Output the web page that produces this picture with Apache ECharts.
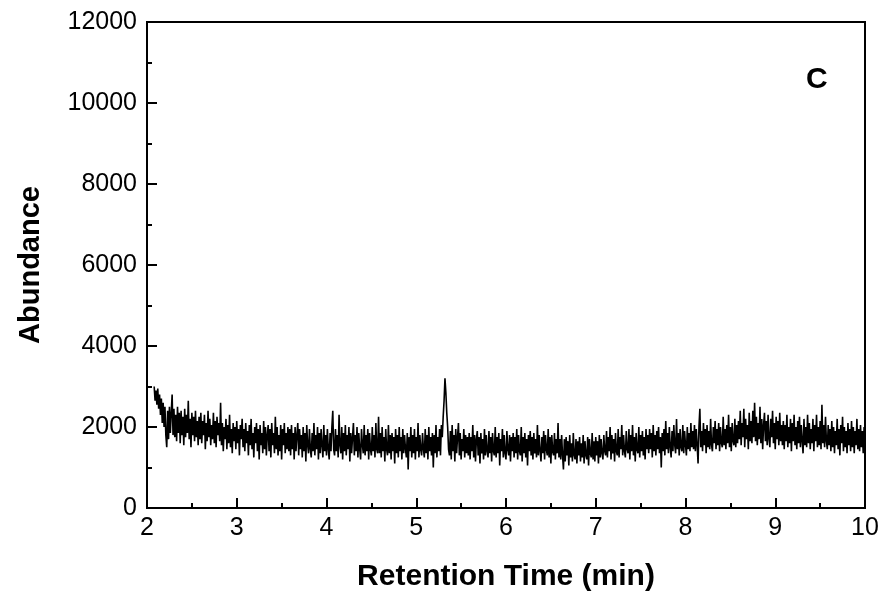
<!DOCTYPE html>
<html>
<head>
<meta charset="utf-8">
<script src="https://cdn.jsdelivr.net/npm/echarts@6/dist/echarts.min.js"></script>
<style>html,body{margin:0;padding:0;background:#fff}#c{width:885px;height:594px}</style>
</head>
<body>
<div id="c"></div>
<script>
// Retention time axis: first sample time and sampling step (min)
var startTime = 2.08;
var stepTime = 0.01;
// Abundance values (rows of 0.5 min)
var abundance = [
 3000,2650,2900,2550,2950,2450,2800,2300,2700,2100,2600,2000,2500,1800,1500,2400,1700,2500,1850,2350,2800,1800,2450,1750,2300,
 1650,2500,1850,2350,1600,2400,1800,2250,1550,2450,1750,2300,1850,2650,1700,2200,1500,2350,1800,2250,1650,2400,1750,2150,1550,
 2250,1700,2350,1600,2150,1800,2300,1450,2100,1650,2400,1750,2200,1550,2050,1700,2350,1600,2150,1500,2250,1800,2100,1650,2600,
 1550,2100,1400,2000,1700,2200,1450,2050,1600,2300,1500,1950,1350,2100,1650,2000,1450,2150,1600,1950,1300,2050,1700,2200,1500,
 1950,1400,2100,1600,1900,1300,2050,1550,2200,1450,1850,1250,2000,1600,2100,1400,1950,1200,2050,1550,1850,1350,2150,1450,2000,
 1300,1800,2050,1400,1950,1250,2100,1550,1850,1350,2250,1450,2000,1300,1800,1400,2050,1200,1950,1550,2100,1350,1850,1450,2000,
 1400,1950,1300,2050,1450,1850,1200,2000,1400,1800,2100,1300,1950,1450,1800,1250,2000,1400,1850,1150,2050,1550,1350,1950,1450,
 1250,1850,1400,2100,1300,1800,1450,2000,1200,1850,1350,1950,1550,1250,2050,1400,1800,1300,1950,1450,1200,1850,1400,2000,2400,
 1450,1300,1950,1400,1800,1250,2300,1550,1350,2000,1200,1850,1400,2050,1300,1800,1450,2000,1150,1850,1350,1750,2100,1300,1800,
 1400,2000,1250,1850,1450,1200,1950,1550,1350,2050,1300,1800,1400,1950,1200,1850,1450,1300,2000,1400,1800,1250,2100,1450,1350,
 2250,1350,1850,1250,2000,1400,1750,1150,1950,1450,1300,2050,1350,1800,1200,1850,1400,1750,1100,1950,1350,1800,1250,2000,1400,
 1750,1200,1950,1350,1800,1450,1250,1850,950,1750,1400,2000,1250,1800,1350,1950,1200,1750,1400,2100,1250,1800,1450,1300,1850,
 1450,1250,1950,1350,1800,1200,2000,1400,1750,1300,1850,1000,1800,1350,2050,1250,1750,1400,1950,1300,2050,1750,2250,2650,3200,
 2850,2350,2000,1450,1300,1900,1200,2050,1400,1800,1150,1950,1350,1750,2100,1300,1850,1200,1700,1400,1950,1250,1800,1350,1750,
 1300,1850,1200,1750,1400,2050,1250,1800,1150,1700,1900,1300,1750,1100,1850,1350,1700,1200,1950,1300,1800,1400,1250,1900,1350,
 1750,1150,1850,1400,1300,2000,1250,1750,1350,1850,1050,1700,1400,1950,1250,1800,1350,1200,1900,1450,1300,1800,1150,1750,1400,
 1850,1250,1750,1350,1950,1200,1800,1400,1300,2000,1150,1750,1350,1850,1250,1700,1050,1800,1400,1900,1300,1750,1200,1850,1350,
 1700,1250,2050,1300,1800,1400,1150,1750,1350,1900,1200,1800,1450,1300,1950,1250,1750,1100,1800,1400,1300,1850,1200,1700,1350,
 2100,1250,1700,1200,1800,1300,950,1700,1150,1750,1300,1650,1050,1800,1250,1600,1150,1850,1300,1200,1700,1100,1650,1300,1750,
 1150,1600,1250,1800,1100,1650,1300,1200,1750,1050,1700,1350,1250,1850,1200,1650,1150,1750,1300,1650,1100,1800,1250,1700,1350,
 1200,1800,1400,1300,1900,1250,1750,1400,2000,1200,1800,1350,1700,1150,1850,1400,1300,1950,1250,1750,1450,2050,1300,1800,1400,
 1250,1900,1450,1350,1950,1200,1800,1400,2050,1300,1750,1150,1850,1450,1350,2000,1250,1800,1400,1900,1300,1750,1200,1950,1450,
 1800,1350,1950,1450,1850,1250,2050,1400,1800,1300,1900,1450,2000,1350,1750,1000,1850,1400,1950,1300,2150,1450,1850,1350,2000,
 1500,1250,1900,1400,2050,1550,1350,2200,1450,1850,1300,1950,1500,1400,2050,1350,1900,1550,1300,2000,1450,1850,1400,2100,1500,
 1900,1450,2050,1400,1950,1550,1100,2000,2450,1500,1900,1400,2100,1550,1950,1350,2050,1500,1900,1450,2200,1550,1400,2000,1600,
 2150,1450,1950,1550,2100,1400,2000,1600,1500,2250,1550,1950,1450,2050,1600,2300,1500,2000,1400,2100,1650,1550,2200,1500,2050,
 1600,2150,1700,2400,1550,2100,1750,2450,1500,2200,1700,2050,1450,2350,1650,2150,1600,2400,1750,2600,1650,2250,1550,2100,1700,
 2500,1600,2200,1450,2050,2350,1650,2150,1550,2300,1700,1500,2200,1750,2400,1600,2100,1450,2250,1700,2150,1550,2350,1650,2050,
 1550,2150,1450,2050,1650,2300,1500,2000,1600,2200,1400,2100,1650,2300,1550,2000,1450,2150,1600,2250,1500,2050,1650,1350,2200,
 1550,2000,1500,2300,1600,2100,1450,1950,1600,2200,1400,2050,1650,2300,1500,2000,1550,2150,1450,2550,1600,2050,1500,2250,1650,
 1450,2050,1550,1950,1400,2150,1500,2000,1350,1900,1550,2200,1450,1950,1300,2050,1600,2250,1400,2000,1500,1900,1350,2100,1550,
 1950,1400,2150,1500,2000,1350,1900,1550,2200,1450,1950,1400,2050,1500,1900,1350,2000,1550
];
var xTicks = {min: 2, max: 10, step: 1};
var yTicks = {min: 0, max: 12000, step: 2000};
var panelLabel = 'C';
var xName = 'Retention Time (min)';
var yName = 'Abundance';

var seriesData = abundance.map(function (v, i) {
  return [+(startTime + i * stepTime).toFixed(2), v];
});

var chart = echarts.init(document.getElementById('c'));
var fontFam = '"Liberation Sans", Arial, sans-serif';
chart.setOption({
  backgroundColor: '#fff',
  animation: false,
  grid: {left: 147, right: 20, top: 22, bottom: 86, outerBoundsMode: 'none', containLabel: false,
         show: true, borderColor: '#000', borderWidth: 2, backgroundColor: 'transparent'},
  xAxis: {
    type: 'value', min: xTicks.min, max: xTicks.max, interval: xTicks.step,
    name: xName, nameLocation: 'middle', nameGap: 54,
    nameTextStyle: {fontFamily: fontFam, fontWeight: 'bold', fontSize: 30, color: '#000'},
    axisLine: {show: true, lineStyle: {color: '#000', width: 2}},
    axisTick: {show: true, inside: true, length: 10, lineStyle: {color: '#000', width: 2}},
    minorTick: {show: true, splitNumber: 2, length: 5, lineStyle: {color: '#000', width: 2}},
    axisLabel: {fontFamily: fontFam, fontSize: 25, color: '#000', margin: 8, formatter: function (v) { return String(v); }},
    splitLine: {show: false}
  },
  yAxis: {
    type: 'value', min: yTicks.min, max: yTicks.max, interval: yTicks.step,
    name: yName, nameLocation: 'middle', nameGap: 102, nameRotate: 90,
    nameTextStyle: {fontFamily: fontFam, fontWeight: 'bold', fontSize: 29, color: '#000'},
    axisLine: {show: true, lineStyle: {color: '#000', width: 2}},
    axisTick: {show: true, inside: true, length: 10, lineStyle: {color: '#000', width: 2}},
    minorTick: {show: true, splitNumber: 2, length: 5, lineStyle: {color: '#000', width: 2}},
    axisLabel: {fontFamily: fontFam, fontSize: 25, color: '#000', margin: 10, formatter: function (v) { return String(v); }},
    splitLine: {show: false}
  },
  graphic: [{
    type: 'text', left: 806, top: 65,
    style: {text: panelLabel, fontFamily: fontFam, fontWeight: 'bold', fontSize: 30, fill: '#000'}
  }],
  series: [{
    type: 'line', data: seriesData, showSymbol: false, symbol: 'none',
    lineStyle: {color: '#000', width: 1.6}, clip: true
  }]
});
</script>
</body>
</html>
